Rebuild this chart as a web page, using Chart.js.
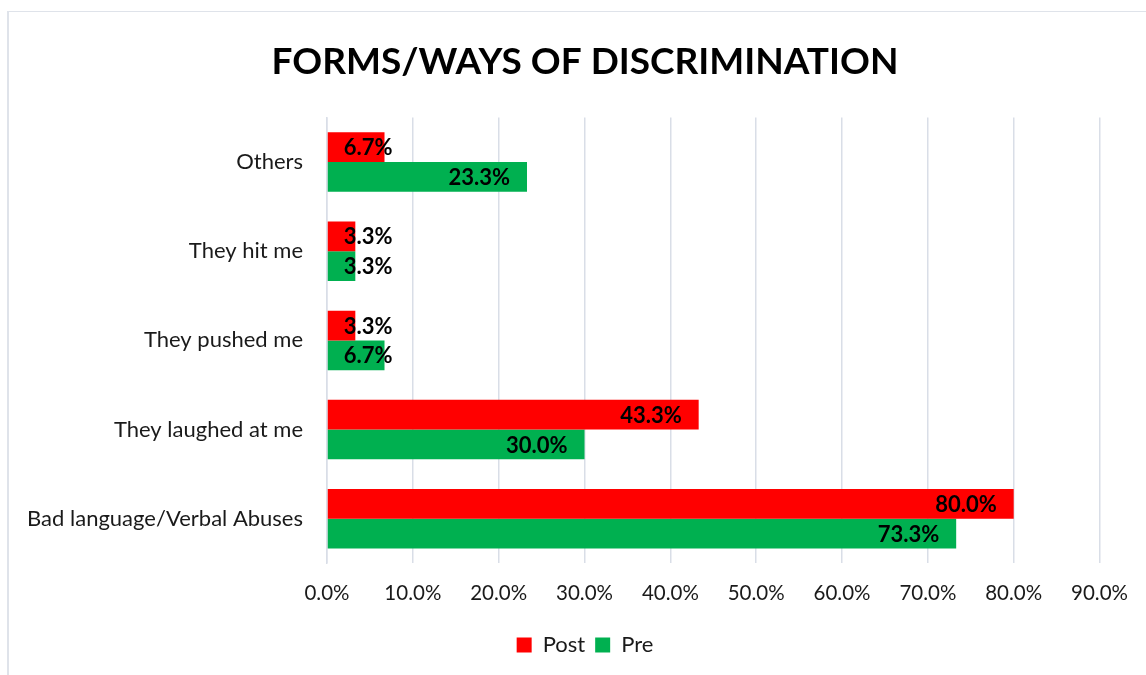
<!DOCTYPE html>
<html>
<head>
<meta charset="utf-8">
<script src="https://cdn.jsdelivr.net/npm/chart.js@4/dist/chart.umd.min.js"></script>
<style>
  html, body { margin: 0; padding: 0; background: #fff; overflow: hidden; }
  #wrap { position: relative; width: 1146px; height: 675px; }
  #frame { position: absolute; left: 7px; top: 11px; width: 1200px; height: 700px;
           border-left: 2px solid #dfe3ea; border-top: 1px solid #dfe3ea; box-sizing: border-box; }
  canvas { position: absolute; left: 0; top: 0; }
</style>
</head>
<body>
<div id="wrap">
  <div id="frame"></div>
  <canvas id="c" width="1146" height="675"></canvas>
</div>
<script>
const categories = ["Others", "They hit me", "They pushed me", "They laughed at me", "Bad language/Verbal Abuses"];
const postValues = [6.7, 3.3, 3.3, 43.3, 80.0];
const preValues = [23.3, 3.3, 6.7, 30.0, 73.3];
const xTicks = [0, 10, 20, 30, 40, 50, 60, 70, 80, 90];
const chartTitle = "FORMS/WAYS OF DISCRIMINATION";

const FONT = "Lato, 'Open Sans', sans-serif";

const labelPlugin = {
  id: 'barLabels',
  afterLayout(chart) {
    // let the category labels extend left of the padded area without clipping
    if (chart.scales.y) chart.scales.y.left = 0;
  },
  afterDatasetsDraw(chart) {
    const ctx = chart.ctx;
    ctx.save();
    ctx.font = "bold 22px " + FONT;
    ctx.fillStyle = "#000";
    ctx.textBaseline = "middle";
    ctx.textAlign = "left";
    chart.data.datasets.forEach((ds, di) => {
      const meta = chart.getDatasetMeta(di);
      meta.data.forEach((el, i) => {
        const txt = ds.data[i].toFixed(1) + "%";
        const w = ctx.measureText(txt).width;
        let left = el.x - 17 - w;
        if (left < el.base + 16) left = el.base + 16;
        ctx.fillText(txt, left, el.y + 1);
      });
    });
    ctx.restore();
  }
};

new Chart(document.getElementById('c'), {
  type: 'bar',
  data: {
    labels: categories,
    datasets: [
      { label: 'Post', data: postValues, backgroundColor: '#ff0000' },
      { label: 'Pre', data: preValues, backgroundColor: '#00b050' }
    ]
  },
  options: {
    indexAxis: 'y',
    responsive: false,
    animation: false,
    devicePixelRatio: 1,
    categoryPercentage: 0.667,
    barPercentage: 1.0,
    layout: { padding: { left: 70, right: 46, top: 0, bottom: 9 } },
    plugins: {
      title: {
        display: true,
        text: chartTitle,
        color: '#000',
        font: { family: FONT, size: 37, weight: 'bold', lineHeight: 1.2 },
        padding: { top: 40, bottom: 33 }
      },
      legend: {
        position: 'bottom',
        labels: {
          color: '#1a1a1a',
          font: { family: FONT, size: 22 },
          boxWidth: 15, boxHeight: 15,
          padding: 10
        }
      },
      tooltip: { enabled: false }
    },
    scales: {
      x: {
        min: 0, max: 90,
        afterBuildTicks(scale) { scale.ticks = xTicks.map(v => ({ value: v })); },
        ticks: {
          color: '#1a1a1a',
          font: { family: FONT, size: 20.5 },
          padding: 18,
          callback: (v) => Number(v).toFixed(1) + '%'
        },
        grid: { color: '#d9dee7', lineWidth: 1.5, drawTicks: false },
        border: { display: false }
      },
      y: {
        afterFit(scale) { scale.width = 327 - 70; },
        ticks: {
          color: '#1a1a1a',
          font: { family: FONT, size: 22 },
          padding: 16
        },
        grid: { display: false },
        border: { display: true, color: '#d9dee7', width: 1.5 }
      }
    }
  },
  plugins: [labelPlugin]
});
</script>
</body>
</html>
